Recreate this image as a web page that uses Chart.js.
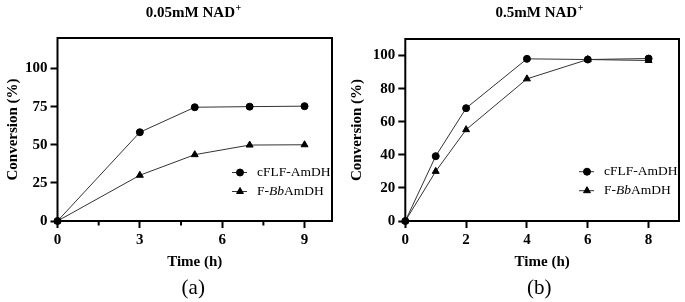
<!DOCTYPE html>
<html><head><meta charset="utf-8">
<script src="https://cdn.jsdelivr.net/npm/chart.js@4.4.1/dist/chart.umd.min.js"></script>
<style>
html,body{margin:0;padding:0;background:#fff;}
#wrap{position:relative;width:685px;height:302px;overflow:hidden;background:#fff;}
.box{position:absolute;top:0;height:302px;}
canvas{display:block;}
</style></head><body>
<div id="wrap">
<div class="box" style="left:0;width:345px"><canvas id="cA" width="345" height="302"></canvas></div>
<div class="box" style="left:345px;width:340px"><canvas id="cB" width="340" height="302"></canvas></div>
</div>
<script>
// ---- data ----
const seriesNames = ['cFLF-AmDH', 'F-BbAmDH'];
const legendParts = [[['cFLF-AmDH', false]], [['F-', false], ['Bb', true], ['AmDH', false]]];

const timeA = [0, 3, 5, 7, 9];
const cflfA = [0, 58.2, 74.6, 75, 75.3];
const bbA   = [0, 30, 43.5, 49.8, 50];
const xTicksA = [0, 3, 6, 9];
const xMinorA = [1.5, 4.5, 7.5];
const yTicksA = [0, 25, 50, 75, 100];

const timeB = [0, 1, 2, 4, 6, 8];
const cflfB = [0, 39.2, 68.2, 98, 97.6, 98.2];
const bbB   = [0, 30, 55.2, 85.9, 97.6, 97];
const xTicksB = [0, 2, 4, 6, 8];
const xMinorB = [];
const yTicksB = [0, 20, 40, 60, 80, 100];

const titleA = '0.05mM NAD', titleB = '0.5mM NAD';
const subA = '(a)', subB = '(b)';
const xTitle = 'Time (h)', yTitle = 'Conversion (%)';

// ---- drawing ----
const SERIF = '"Liberation Serif","Times New Roman",serif';

const decor = {
  id: 'decor',
  beforeDatasetsDraw(chart, args, o) {
    const {ctx, chartArea: a} = chart;
    ctx.save();
    ctx.strokeStyle = '#000';
    ctx.lineWidth = 2;
    ctx.strokeRect(a.left, a.top, a.right - a.left, a.bottom - a.top);
    const xs = chart.scales.x;
    ctx.beginPath();
    (o.minor || []).forEach(v => {
      const px = xs.getPixelForValue(v);
      ctx.moveTo(px, a.bottom);
      ctx.lineTo(px, a.bottom + 4.5);
    });
    ctx.stroke();
    ctx.restore();
  },
  afterDraw(chart, args, o) {
    const {ctx, chartArea: a} = chart;
    const cx = (a.left + a.right) / 2 + (o.shift || 0);
    ctx.save();
    ctx.fillStyle = '#000';
    ctx.textBaseline = 'middle';
    ctx.textAlign = 'left';
    // title with superscript +
    ctx.font = 'bold 15px ' + SERIF;
    const w1 = ctx.measureText(o.title).width;
    ctx.font = 'bold 10px ' + SERIF;
    const w2 = ctx.measureText('+').width;
    const x0 = cx - (w1 + w2) / 2;
    ctx.font = 'bold 15px ' + SERIF;
    ctx.fillText(o.title, x0, o.titleY);
    ctx.font = 'bold 10px ' + SERIF;
    ctx.fillText('+', x0 + w1 + 0.5, o.titleY - 5);
    // sub label
    ctx.font = '21px ' + SERIF;
    ctx.textAlign = 'center';
    ctx.fillText(o.sub, cx, o.subY);
    // legend
    ctx.textAlign = 'left';
    chart.data.datasets.forEach((ds, i) => {
      const y = a.bottom + o.legendY[i];
      const lx = a.right + o.legendX;
      ctx.strokeStyle = '#333';
      ctx.lineWidth = 1;
      ctx.beginPath();
      ctx.moveTo(lx, y); ctx.lineTo(lx + 15, y);
      ctx.stroke();
      ctx.fillStyle = '#000';
      ctx.strokeStyle = '#000';
      Chart.helpers.drawPoint(ctx, {pointStyle: ds.pointStyle, radius: ds.pointRadius, rotation: 0, borderWidth: 1}, lx + 8, y);
      let tx = lx + 25;
      legendParts[i].forEach(([t, it]) => {
        ctx.font = (it ? 'italic ' : '') + '13.5px ' + SERIF;
        ctx.fillStyle = '#000';
        ctx.fillText(t, tx, y);
        tx += ctx.measureText(t).width;
      });
    });
    ctx.restore();
  }
};

function makeChart(id, c) {
  const font = {family: SERIF, size: 15, weight: 'bold'};
  const mk = (vals, i) => ({
    label: seriesNames[i],
    data: c.t.map((t, k) => ({x: t, y: vals[k]})),
    borderColor: '#333', borderWidth: 1,
    pointStyle: i === 0 ? 'circle' : 'triangle',
    pointRadius: i === 0 ? 3.5 : 4,
    pointBackgroundColor: '#000', pointBorderColor: '#000', pointBorderWidth: 1,
    tension: 0, clip: false, fill: false
  });
  return new Chart(document.getElementById(id), {
    type: 'line',
    data: {datasets: [mk(c.c, 0), mk(c.b, 1)]},
    options: {
      responsive: false, animation: false, devicePixelRatio: 1,
      layout: {padding: {top: c.top, bottom: 31, left: c.padL, right: c.padR}},
      plugins: {
        legend: {display: false}, tooltip: {enabled: false}, title: {display: false},
        decor: {title: c.title, sub: c.sub, minor: c.minor, titleY: 13, subY: 288,
                legendY: c.legendY, legendX: -100, shift: c.shift}
      },
      scales: {
        x: {
          type: 'linear', min: 0, max: c.xmax,
          afterBuildTicks: s => { s.ticks = c.xt.map(v => ({value: v})); },
          afterFit: s => { s.height = 50; },
          grid: {drawOnChartArea: false, drawTicks: true, tickLength: 7, tickWidth: 2, tickColor: '#000'},
          border: {display: false},
          ticks: {color: '#000', font, padding: 3, maxRotation: 0, autoSkip: false},
          title: {display: true, text: xTitle, color: '#000', font, padding: 0}
        },
        y: {
          type: 'linear', min: 0, max: c.ymax,
          afterBuildTicks: s => { s.ticks = c.yt.map(v => ({value: v})); },
          afterFit: s => { s.width = c.yw; },
          grid: {drawOnChartArea: false, drawTicks: true, tickLength: 7, tickWidth: 2, tickColor: '#000'},
          border: {display: false},
          ticks: {color: '#000', font, padding: 3, autoSkip: false},
          title: {display: true, text: yTitle, color: '#000', font, padding: 0}
        }
      }
    },
    plugins: [decor]
  });
}

makeChart('cA', {t: timeA, c: cflfA, b: bbA, xt: xTicksA, yt: yTicksA, minor: xMinorA,
  xmax: 10, ymax: 120, top: 38, padL: 4, padR: 13, yw: 53.5,
  title: titleA, sub: subA, legendY: [-48.5, -29.5], shift: -1.5});
makeChart('cB', {t: timeB, c: cflfB, b: bbB, xt: xTicksB, yt: yTicksB, minor: xMinorB,
  xmax: 9, ymax: 110, top: 39, padL: 3, padR: 6, yw: 57.3,
  title: titleB, sub: subB, legendY: [-49.3, -30.3], shift: -3});
</script>
</body></html>
